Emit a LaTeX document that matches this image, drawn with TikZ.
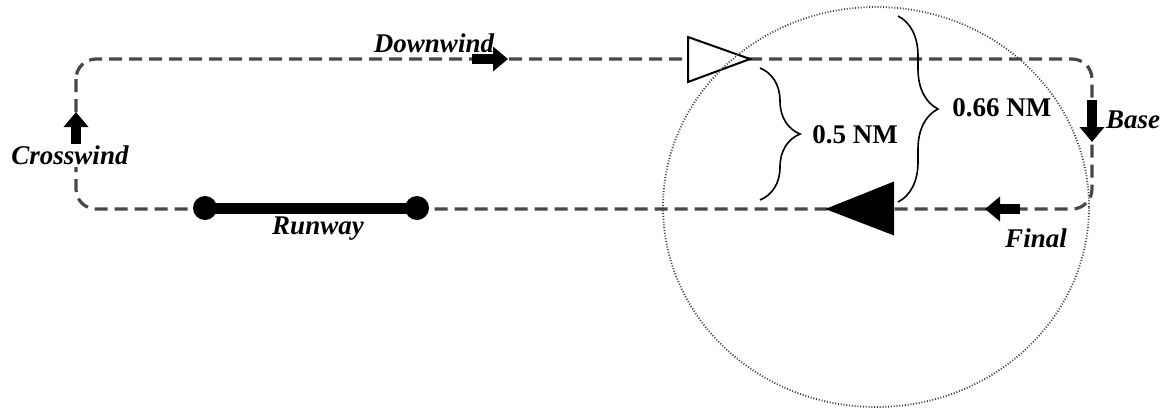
\documentclass[tikz,border=0pt]{standalone}
\usepackage{fontspec}
\setmainfont{Liberation Serif}
\usetikzlibrary{arrows.meta,positioning,decorations.pathreplacing}
\tikzset{blk/.tip={Triangle[length=7.5pt,width=12pt]}}
\begin{document}
\begin{tikzpicture}[x=0.5pt,y=-0.5pt,font=\fontsize{13.5}{16}\selectfont\bfseries,
  trafficpat/.style={draw=black!72,line width=1.6pt,dash pattern=on 6.5pt off 3.5pt,rounded corners=10pt},
  ring/.style={draw=black!75,line width=0.9pt,dash pattern=on 0.5pt off 0.9pt},
  leg/.style={line width=5pt,-blk},
  lbl/.style={font=\fontsize{13.5}{16}\selectfont\bfseries\itshape,inner sep=1pt},
  rwdot/.style={circle,fill=black,inner sep=0pt,minimum size=12pt},
  brc/.style={decorate,decoration={brace,amplitude=20pt},line width=0.8pt},
  ac/.style={line width=1pt}]
  \useasboundingbox (0,0) rectangle (1162,413);
  \coordinate (tl) at (76,59);
  \coordinate (br) at (1092,209);
  \draw[trafficpat] (tl) rectangle (br);
  \node[rwdot](rw1) at (205,208){};
  \node[rwdot](rw2) at (417,208){};
  \draw[line width=5.5pt] (rw1.center) -- (rw2.center);
  \node[lbl](runway) at (318,229){Runway};
  \coordinate (cw1) at (76,145);
  \coordinate (cw2) at (76,112);
  \draw[leg] (cw1) -- (cw2);
  \node[lbl,fill=white](crosswind) at (70,155){Crosswind};
  \coordinate (dw1) at (472,59);
  \coordinate (dw2) at (508,59);
  \draw[leg] (dw1) -- (dw2);
  \node[lbl](downwind) at (434,43){Downwind};
  \coordinate (bs1) at (1092,100);
  \coordinate (bs2) at (1092,142);
  \draw[leg] (bs1) -- (bs2);
  \node[lbl](base) at (1133,120){Base};
  \coordinate (fn1) at (1020,209);
  \coordinate (fn2) at (985,209);
  \draw[leg] (fn1) -- (fn2);
  \node[lbl](final) at (1036,238){Final};
  \draw[ac,fill=white] (688,37) -- (688,82) -- (750,59) -- cycle;
  \draw[ac,fill=black] (828,209) -- (893,183) -- (893,234) -- cycle;
  \draw[ring] (876,207) ellipse [x radius=106.5pt,y radius=100pt];
  \coordinate (b1a) at (760,68);
  \coordinate (b1b) at (760,200);
  \draw[brc] (b1a) -- (b1b);
  \node(half)[anchor=west,inner sep=0pt] at (812,135){0.5 NM};
  \coordinate (b2a) at (898,16);
  \coordinate (b2b) at (898,202);
  \draw[brc] (b2a) -- (b2b);
  \node(twothirds)[anchor=west,inner sep=0pt] at (952,108){0.66 NM};
\end{tikzpicture}
\end{document}
